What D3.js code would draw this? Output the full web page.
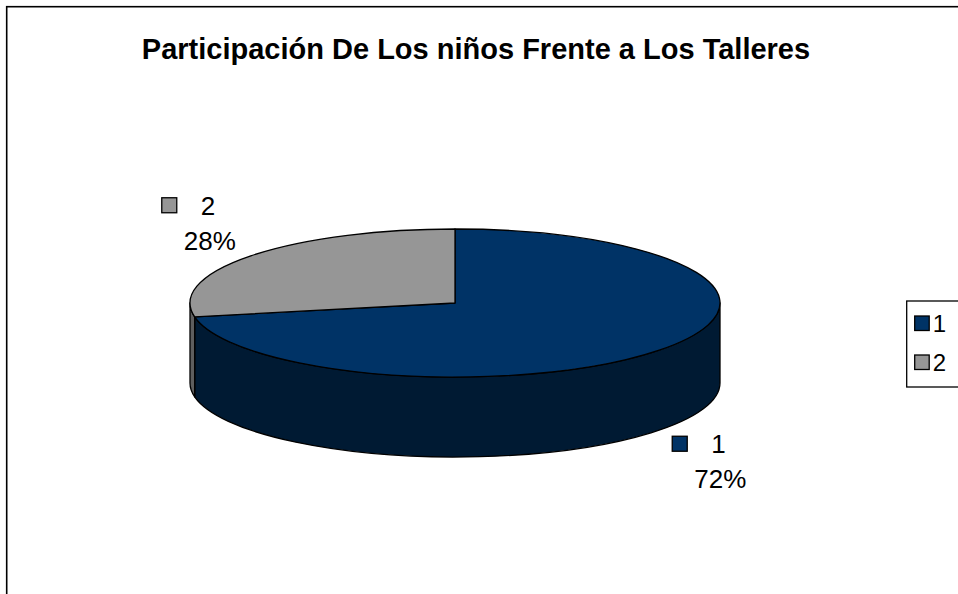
<!DOCTYPE html>
<html lang="es">
<head>
    <meta charset="UTF-8">
    <title>Participación De Los niños Frente a Los Talleres</title>
    <script src="https://d3js.org/d3.v7.min.js"></script>
    <style>
        body { margin: 0; background: #fff; }
        text { font-family: "Liberation Sans", Arial, sans-serif; fill: #000; }
    </style>
</head>
<body>
<div id="chart"></div>
<script>
// data
const categories = ["1", "2"];
const values = [72, 28];
const percentLabels = ["72%", "28%"];
const topColors = ["#003366", "#969696"];
const sideColors = ["#001a33", "#5e5e5e"];
const title = "Participación De Los niños Frente a Los Talleres";

const width = 958, height = 594;

// 3d pie geometry
const cx = 455, cy = 303, rx = 265, ry = 74, depth = 80;

const svg = d3.select("#chart")
    .append("svg")
    .attr("width", width)
    .attr("height", height);

// chart area border (runs off the right and bottom of the frame)
svg.append("rect")
    .attr("x", 6.7)
    .attr("y", 6.7)
    .attr("width", 1000)
    .attr("height", 1000)
    .attr("fill", "none")
    .attr("stroke", "#000")
    .attr("stroke-width", 1.6);

svg.append("text")
    .attr("x", 476)
    .attr("y", 59)
    .attr("text-anchor", "middle")
    .attr("font-size", 29)
    .attr("font-weight", "bold")
    .text(title);

const pie = d3.pie().sort(null).value(d => d);
const arcs = pie(values);

// angle 0 = 12 o'clock, growing clockwise
function pt(a, dy = 0) {
    return [cx + rx * Math.sin(a), cy - ry * Math.cos(a) + dy];
}

function topPath(d) {
    const p0 = pt(d.startAngle), p1 = pt(d.endAngle);
    const large = (d.endAngle - d.startAngle) > Math.PI ? 1 : 0;
    return `M${cx},${cy}L${p0}A${rx},${ry} 0 ${large} 1 ${p1}Z`;
}

function sidePath(a0, a1) {
    const p0 = pt(a0), p1 = pt(a1);
    const q0 = pt(a0, depth), q1 = pt(a1, depth);
    return `M${p0}A${rx},${ry} 0 0 1 ${p1}L${q1}A${rx},${ry} 0 0 0 ${q0}Z`;
}

const g = svg.append("g");

// front walls: only the part between 3 and 9 o'clock shows
arcs.forEach((d, i) => {
    const a0 = Math.max(d.startAngle, Math.PI / 2);
    const a1 = Math.min(d.endAngle, Math.PI * 3 / 2);
    if (a1 <= a0) return;
    g.append("path")
        .attr("d", sidePath(a0, a1))
        .attr("fill", sideColors[i])
        .attr("stroke", "#000")
        .attr("stroke-width", 1.3)
        .attr("stroke-linejoin", "round");
});

g.selectAll(".top")
    .data(arcs)
    .enter()
    .append("path")
    .attr("class", "top")
    .attr("d", topPath)
    .attr("fill", (d, i) => topColors[i])
    .attr("stroke", "#000")
    .attr("stroke-width", 1.3)
    .attr("stroke-linejoin", "round");

// data labels
arcs.forEach((d, i) => {
    const mid = (d.startAngle + d.endAngle) / 2;
    const front = Math.cos(mid) < 0;
    const lx = cx + 1.25 * rx * Math.sin(mid) + 10;
    const ly = cy - 1.68 * ry * Math.cos(mid) + (front ? depth : 0) - 9;
    const lab = svg.append("g").attr("transform", `translate(${lx},${ly})`);
    lab.append("rect")
        .attr("x", -48)
        .attr("y", -17)
        .attr("width", 15)
        .attr("height", 15)
        .attr("fill", topColors[i])
        .attr("stroke", "#000")
        .attr("stroke-width", 1.3);
    lab.append("text")
        .attr("x", -9)
        .attr("y", 0)
        .attr("font-size", 26)
        .text(categories[i]);
    lab.append("text")
        .attr("x", 0)
        .attr("y", 35)
        .attr("text-anchor", "middle")
        .attr("font-size", 26)
        .text(percentLabels[i]);
});

// legend (cut off at the right edge)
const legend = svg.append("g").attr("transform", "translate(906.7,301)");
legend.append("rect")
    .attr("x", 0)
    .attr("y", 0)
    .attr("width", 120)
    .attr("height", 86)
    .attr("fill", "#fff")
    .attr("stroke", "#000")
    .attr("stroke-width", 1.3);

const items = legend.selectAll(".item")
    .data(categories)
    .enter()
    .append("g")
    .attr("class", "item")
    .attr("transform", (d, i) => `translate(8,${15 + i * 39})`);

items.append("rect")
    .attr("width", 14.5)
    .attr("height", 14.5)
    .attr("fill", (d, i) => topColors[i])
    .attr("stroke", "#000")
    .attr("stroke-width", 1.3);

items.append("text")
    .attr("x", 18)
    .attr("y", 16)
    .attr("font-size", 24)
    .text(d => d);
</script>
</body>
</html>
